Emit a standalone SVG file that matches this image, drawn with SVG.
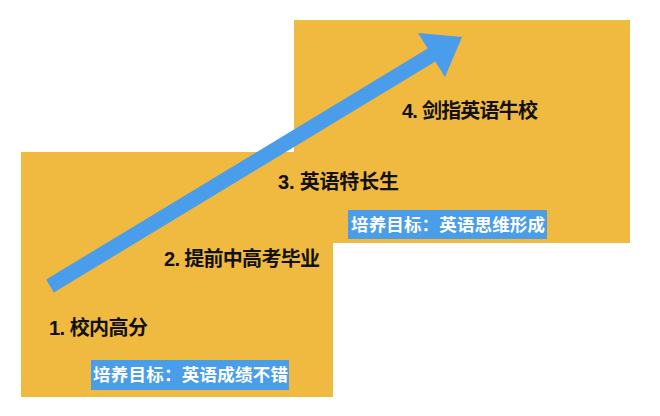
<svg xmlns="http://www.w3.org/2000/svg" width="660" height="416" viewBox="0 0 660 416">
<style>
.bg{fill:#F0B940}
.step{font-family:"Liberation Sans","Noto Sans CJK SC",sans-serif;font-weight:bold;font-size:20px;fill:#111111}
.tag{fill:#4A9DE8}
.tagtext{font-family:"Liberation Sans","Noto Sans CJK SC",sans-serif;font-weight:bold;font-size:17.5px;fill:#FFFFFF}
.arrow{fill:#4A9DEB}
</style>
<rect width="660" height="416" fill="#FFFFFF"/>
<g id="stage-lower"><rect class="bg" x="21" y="152" width="312" height="245"/></g>
<g id="stage-upper"><rect class="bg" x="294" y="20" width="336" height="223"/></g>
<g id="connectors">
<polygon class="arrow" points="46.2,279.5 427.7,48.5 418,33 462,37 445,77 435.3,61.5 53.8,292.5"/>
</g>
<g id="step-1"><text class="step" x="49" y="335" textLength="99" lengthAdjust="spacing">1. 校内高分</text></g>
<g id="step-2"><text class="step" x="164" y="266" textLength="156" lengthAdjust="spacing">2. 提前中高考毕业</text></g>
<g id="step-3"><text class="step" x="278" y="189" textLength="121" lengthAdjust="spacing">3. 英语特长生</text></g>
<g id="step-4"><text class="step" x="402" y="118" textLength="136" lengthAdjust="spacing">4. 剑指英语牛校</text></g>
<g id="goal-1"><rect class="tag" x="91" y="360" width="198" height="30"/><text class="tagtext" x="93" y="381" textLength="195" lengthAdjust="spacing">培养目标：英语成绩不错</text></g>
<g id="goal-2"><rect class="tag" x="348" y="210" width="199" height="29"/><text class="tagtext" x="351" y="230.5" textLength="194" lengthAdjust="spacing">培养目标：英语思维形成</text></g>
</svg>
